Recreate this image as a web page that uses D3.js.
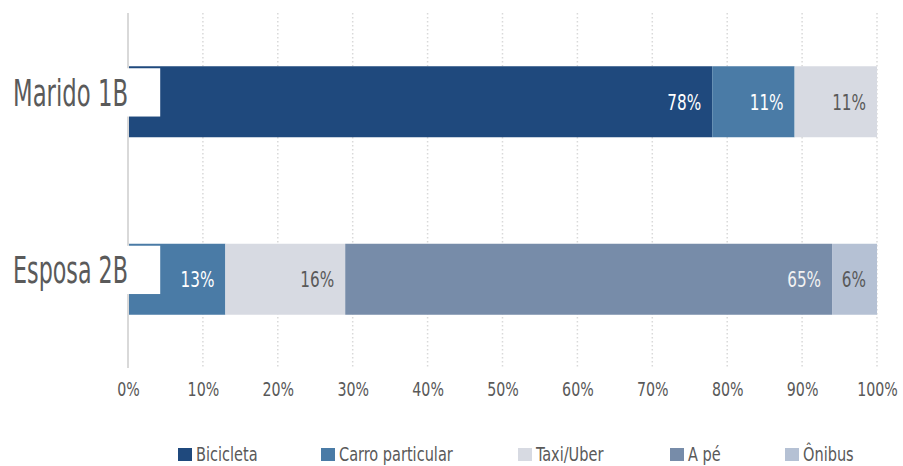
<!DOCTYPE html>
<html>
<head>
<meta charset="utf-8">
<script src="https://cdn.jsdelivr.net/npm/d3@7"></script>
<style>
  html, body { margin: 0; padding: 0; background: #fff; }
  svg { display: block; }
  text { font-family: "DejaVu Sans Condensed", "DejaVu Sans", sans-serif; font-stretch: condensed; }
</style>
</head>
<body>
<svg id="chart" width="903" height="466"></svg>
<script>
// Travel mode shares per person (percent)
const people = ["Marido 1B", "Esposa 2B"];
const modes = ["Bicicleta", "Carro particular", "Taxi/Uber", "A pé", "Ônibus"];
const bicicleta = [78, 0];
const carro = [11, 13];
const taxi = [11, 16];
const aPe = [0, 65];
const onibus = [0, 6];
const xTicks = [0, 10, 20, 30, 40, 50, 60, 70, 80, 90, 100];

const modeColors = ["#1f497d", "#4a7ba6", "#d7dae2", "#778ca9", "#b5c1d4"];
const labelColors = ["#ffffff", "#ffffff", "#595959", "#f2f2f2", "#595959"];

const seriesValues = [bicicleta, carro, taxi, aPe, onibus];
const rows = people.map((p, i) => {
  const r = { person: p };
  modes.forEach((m, j) => { r[m] = seriesValues[j][i]; });
  return r;
});

// Place a text at (px, py) and squeeze it horizontally for a condensed look
function place(sel, px, py, factor) {
  sel.attr("x", 0).attr("y", 0)
    .attr("transform", (d, i, n) => {
      const f = typeof factor === "function" ? factor.call(n[i], d) : factor;
      return `translate(${px(d)},${py(d)}) scale(${f},1)`;
    });
}

const svg = d3.select("#chart");
const margin = { left: 128, right: 26, top: 13, bottom: 98 };
const W = 903, H = 466;

const x = d3.scaleLinear().domain([0, 100]).range([margin.left, W - margin.right]);
const y = d3.scaleBand().domain(people).range([margin.top, H - margin.bottom])
  .paddingInner(0.6).paddingOuter(0.3);
const color = d3.scaleOrdinal().domain(modes).range(modeColors);
const textColor = d3.scaleOrdinal().domain(modes).range(labelColors);

// Dotted vertical gridlines
svg.append("g").selectAll("line")
  .data(xTicks.filter(t => t > 0))
  .join("line")
  .attr("x1", d => x(d)).attr("x2", d => x(d))
  .attr("y1", margin.top).attr("y2", H - margin.bottom)
  .attr("stroke", "#d9d9d9").attr("stroke-width", 1.5)
  .attr("stroke-dasharray", "1.5,2.5");

// Stacked bars
const stack = d3.stack().keys(modes);
const layers = stack(rows);

const layerG = svg.append("g").selectAll("g")
  .data(layers)
  .join("g")
  .attr("fill", d => color(d.key));

layerG.selectAll("rect")
  .data(d => d.map(s => ({ key: d.key, s })))
  .join("rect")
  .filter(d => d.s[1] - d.s[0] > 0)
  .attr("x", d => x(d.s[0]))
  .attr("width", d => x(d.s[1]) - x(d.s[0]))
  .attr("y", d => y(d.s.data.person))
  .attr("height", y.bandwidth());

// Value labels, inside the end of each segment
const labels = [];
layers.forEach(layer => layer.forEach(s => {
  const v = s[1] - s[0];
  if (v > 0) labels.push({ key: layer.key, s, v });
}));
svg.append("g").selectAll("text")
  .data(labels)
  .join("text")
  .attr("dy", "0.36em")
  .attr("text-anchor", "end")
  .attr("font-size", 22)
  .attr("fill", d => textColor(d.key))
  .text(d => d.v + "%")
  .call(place, d => x(d.s[1]) - 11, d => y(d.s.data.person) + y.bandwidth() / 2, 0.77);

// Zero baseline
svg.append("line")
  .attr("x1", x(0)).attr("x2", x(0))
  .attr("y1", margin.top).attr("y2", H - margin.bottom)
  .attr("stroke", "#d9d9d9").attr("stroke-width", 2);

// Category labels on white plates over the start of each bar
const catG = svg.append("g").selectAll("g").data(people).join("g");
catG.append("rect")
  .attr("x", 0)
  .attr("width", x(4.3))
  .attr("y", d => y(d) + 2)
  .attr("height", y.bandwidth() * 0.68)
  .attr("fill", "#ffffff");
catG.append("text")
  .attr("dy", "0.36em")
  .attr("text-anchor", "end")
  .attr("font-size", 37)
  .attr("fill", "#5a5a5a")
  .text(d => d)
  .call(place, () => x(0), d => y(d) + 2 + y.bandwidth() * 0.34,
        function () { return 115 / this.getComputedTextLength(); });

// X axis tick labels
const xAxis = d3.axisBottom(x).tickValues(xTicks).tickSize(0).tickPadding(0)
  .tickFormat(d => d + "%");
const axG = svg.append("g")
  .attr("transform", `translate(0, ${H - margin.bottom + 21})`)
  .call(xAxis);
axG.select(".domain").remove();
axG.selectAll("text")
  .attr("font-size", 20)
  .attr("font-family", null)
  .attr("fill", "#595959")
  .attr("dy", "0.36em")
  .call(place, () => 0, () => 0, 0.79);

// Legend
const legendX = [178, 321, 518, 670, 785];
const lg = svg.append("g").selectAll("g")
  .data(modes)
  .join("g")
  .attr("transform", (d, i) => `translate(${legendX[i]}, 448)`);
lg.append("rect").attr("width", 14).attr("height", 13).attr("fill", d => color(d));
lg.append("text")
  .attr("dy", "0.36em")
  .attr("font-size", 19).attr("fill", "#595959")
  .text(d => d)
  .call(place, () => 18, () => 6.5, 0.85);
</script>
</body>
</html>
